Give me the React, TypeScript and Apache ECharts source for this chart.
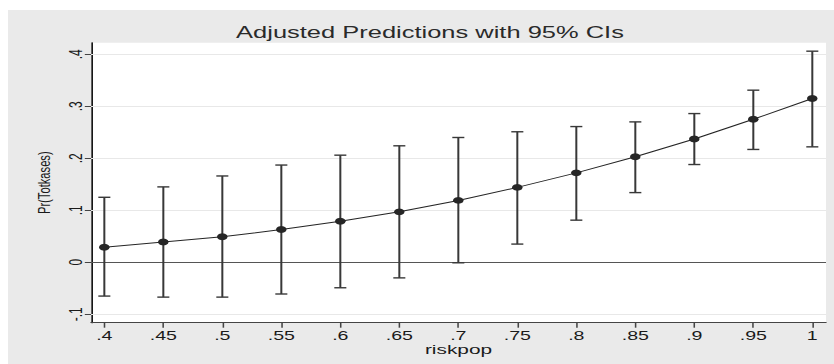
import React, { useEffect, useRef } from "react";
import * as echarts from "echarts";

// ---- data ----
const riskpop = [0.4, 0.45, 0.5, 0.55, 0.6, 0.65, 0.7, 0.75, 0.8, 0.85, 0.9, 0.95, 1];
const predicted = [0.029, 0.039, 0.049, 0.063, 0.079, 0.097, 0.119, 0.144, 0.172, 0.203, 0.237, 0.275, 0.315];
const ciLower = [-0.065, -0.067, -0.067, -0.061, -0.049, -0.030, -0.001, 0.035, 0.081, 0.134, 0.188, 0.217, 0.222];
const ciUpper = [0.125, 0.145, 0.166, 0.187, 0.206, 0.224, 0.240, 0.251, 0.261, 0.270, 0.286, 0.331, 0.406];
const xTicks = [0.4, 0.45, 0.5, 0.55, 0.6, 0.65, 0.7, 0.75, 0.8, 0.85, 0.9, 0.95, 1];
const yTicks = [-0.1, 0, 0.1, 0.2, 0.3, 0.4];
const yGrid = [-0.1, 0.1, 0.2, 0.3, 0.4];

const TITLE = "Adjusted Predictions with 95% CIs";
const X_NAME = "riskpop";
const Y_NAME = "Pr(Totkases)";

// horizontal stretch of the original picture
const NAT_W = 535;
const S = 826 / NAT_W;
const FONT = '"Liberation Sans", Arial, Helvetica, sans-serif';

const fmt = (v: number) => {
  if (Math.abs(v) < 1e-9) return "0";
  let s = parseFloat(Math.abs(v).toFixed(3)).toString();
  if (s.startsWith("0.")) s = s.slice(1);
  return (v < 0 ? "-" : "") + s;
};

export default function App() {
  const ref = useRef<HTMLDivElement>(null);
  useEffect(() => {
    document.body.style.margin = "0";
    document.body.style.overflow = "hidden";
    const chart = echarts.init(ref.current!, null, { renderer: "svg" });
    const barData = riskpop.map((x, i) => [x, ciLower[i], ciUpper[i]]);
    const lineData = riskpop.map((x, i) => [x, predicted[i]]);
    chart.setOption({
      animation: false,
      backgroundColor: "transparent",
      graphic: [
        {
          type: "text",
          x: (430 - 8) / S,
          y: 22.5,
          style: {
            text: TITLE,
            font: `16.5px ${FONT}`,
            fill: "#2a2a2a",
            textAlign: "center",
            textVerticalAlign: "middle",
          },
        },
      ],
      grid: {
        left: 83 / S,
        right: 8 / S,
        top: 32.7,
        bottom: 41.3,
        show: true,
        backgroundColor: "#ffffff",
        borderColor: "#ffffff",
        borderWidth: 0,
      },
      xAxis: {
        type: "value",
        min: 0.3887,
        max: 1.0116,
        name: X_NAME,
        nameLocation: "middle",
        nameGap: 20,
        nameMoveOverlap: false,
        nameTextStyle: { fontFamily: FONT, fontSize: 13.5, lineHeight: 13, color: "#1a1a1a" },
        axisLine: { show: true, onZero: false, lineStyle: { color: "#444", width: 1 } },
        axisTick: { show: true, length: 5, customValues: xTicks, lineStyle: { color: "#444", width: 1 } },
        axisLabel: {
          customValues: xTicks,
          formatter: (v: number) => fmt(v),
          fontFamily: FONT,
          fontSize: 12.7,
          lineHeight: 12,
          color: "#1a1a1a",
          margin: 7,
        },
        splitLine: { show: false },
      },
      yAxis: {
        type: "value",
        min: -0.1162,
        max: 0.4223,
        name: Y_NAME,
        nameLocation: "middle",
        nameRotate: 90,
        nameGap: 25,
        nameMoveOverlap: false,
        nameTextStyle: { fontFamily: FONT, fontSize: 11.2, color: "#1a1a1a" },
        axisLine: { show: true, onZero: false, lineStyle: { color: "#000", width: 1 } },
        axisTick: { show: true, length: 4, customValues: yTicks, lineStyle: { color: "#444", width: 1 } },
        axisLabel: {
          customValues: yTicks,
          formatter: (v: number) => fmt(v),
          rotate: 90,
          fontFamily: FONT,
          fontSize: 12,
          color: "#1a1a1a",
          margin: 4,
        },
        splitLine: { show: false },
      },
      series: [
        {
          type: "custom",
          name: "95% CI",
          z: 2,
          data: barData,
          encode: { x: 0, y: [1, 2] },
          renderItem: (params: any, api: any) => {
            const x = api.value(0);
            const lo = api.coord([x, api.value(1)]);
            const hi = api.coord([x, api.value(2)]);
            const hw = 3.9;
            const vStyle = { stroke: "#383838", lineWidth: 1.3 };
            const cStyle = { stroke: "#383838", lineWidth: 1.4 };
            return {
              type: "group",
              children: [
                { type: "line", shape: { x1: lo[0], y1: lo[1], x2: hi[0], y2: hi[1] }, style: vStyle },
                { type: "line", shape: { x1: lo[0] - hw, y1: lo[1], x2: lo[0] + hw, y2: lo[1] }, style: cStyle },
                { type: "line", shape: { x1: hi[0] - hw, y1: hi[1], x2: hi[0] + hw, y2: hi[1] }, style: cStyle },
              ],
            };
          },
        },
        {
          type: "line",
          name: "Pr(Totkases)",
          z: 3,
          data: lineData,
          symbol: "circle",
          symbolSize: 6.8,
          showSymbol: true,
          itemStyle: { color: "#262626" },
          lineStyle: { color: "#262626", width: 1 },
          markLine: {
            silent: true,
            symbol: "none",
            label: { show: false },
            z: 1,
            data: [
              ...yGrid.map((v) => ({ yAxis: v, lineStyle: { color: "#e8e8e8", width: 1, type: "solid" } })),
              { yAxis: 0, lineStyle: { color: "#555", width: 1.2, type: "solid" } },
            ],
          },
        },
      ],
    });
    return () => chart.dispose();
  }, []);
  return (
    <div style={{ position: "absolute", left: 0, top: 0, width: 834, height: 364, background: "#fff", overflow: "hidden" }}>
      <div style={{ position: "absolute", left: 8, top: 10, width: 826, height: 354, background: "#eaeaea" }} />
      <div
        ref={ref}
        style={{
          position: "absolute",
          left: 8,
          top: 10,
          width: NAT_W,
          height: 354,
          transform: `scaleX(${S})`,
          transformOrigin: "0 0",
        }}
      />
    </div>
  );
}
